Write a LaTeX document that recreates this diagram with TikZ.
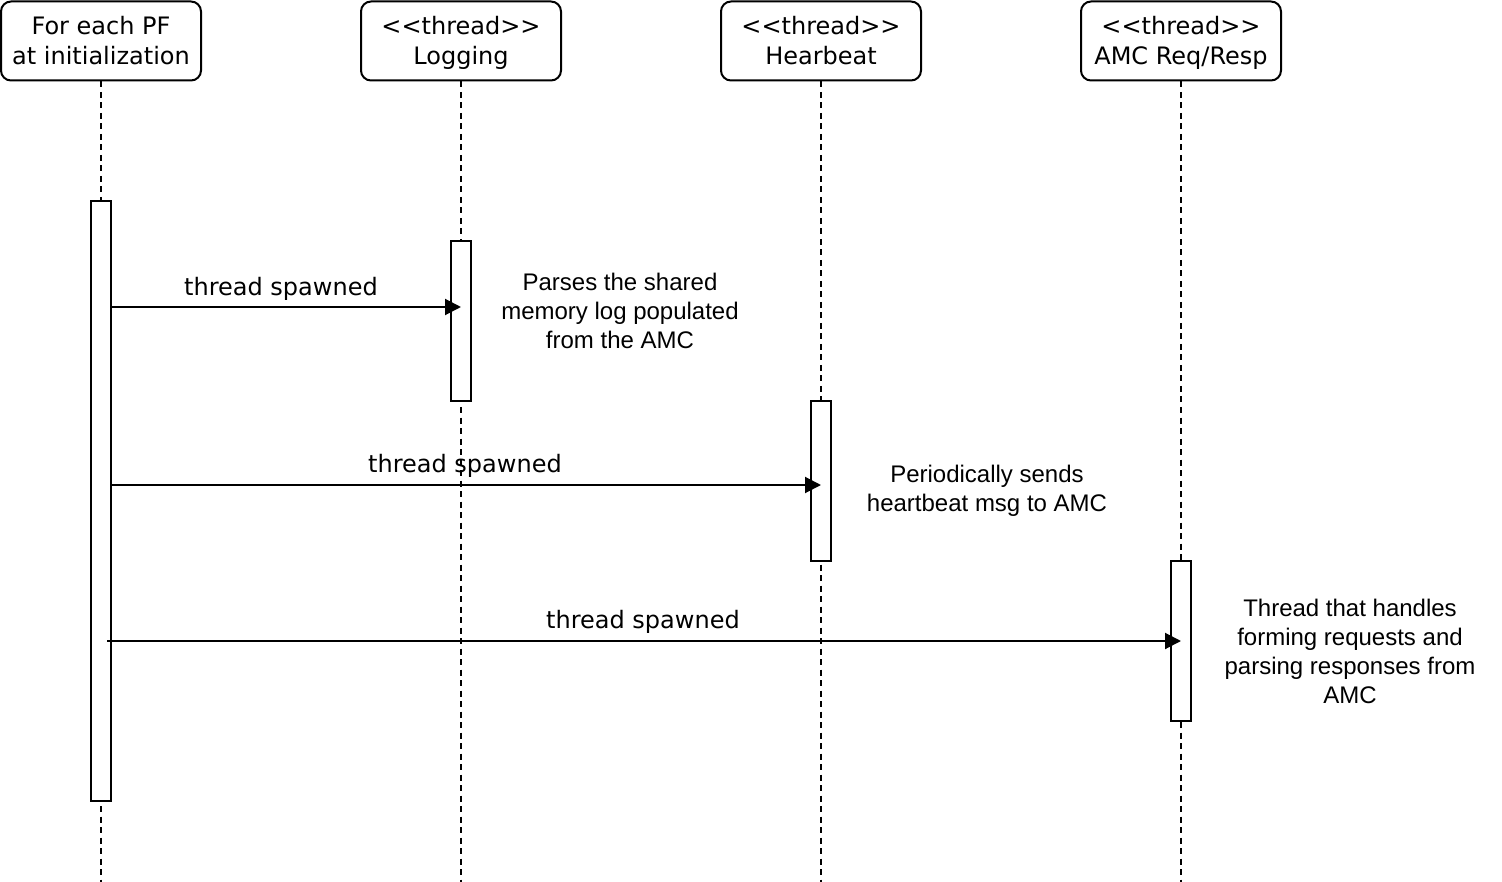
\documentclass[tikz,border=0pt]{standalone}
\usepackage{fontspec}
\setmainfont{DejaVu Sans}
\newfontfamily\descfont{Liberation Sans}
\usetikzlibrary{arrows.meta}
\newcommand\thr{<\kern0pt<thread>\kern0pt>}
\newcommand\hs{\rule[-6pt]{0pt}{30pt}}
\begin{document}
\begin{tikzpicture}[x=1pt,y=-1pt,
  head/.style={draw,line width=2pt,rounded corners=10pt,minimum width=200pt,minimum height=79pt,align=center,inner sep=0pt,
    font=\fontsize{24pt}{30pt}\selectfont},
  life/.style={line width=2pt,dash pattern=on 6pt off 4.5pt},
  act/.style={draw,fill=white,line width=2pt,minimum width=20pt,inner sep=0pt},
  msg/.style={line width=2pt,-{Triangle[length=16pt,width=16pt]}},
  lbl/.style={font=\fontsize{24pt}{28pt}\selectfont,inner sep=0pt},
  desc/.style={font=\descfont\fontsize{24pt}{29pt}\selectfont,align=center,inner sep=0pt}]
\useasboundingbox (0,0) rectangle (1502,882);
% headers
\node[head] (h1) at (101,41) {\hs For each PF\\\hs at initialization};
\node[head] (h2) at (461,41) {\hs\thr\\\hs Logging};
\node[head] (h3) at (821,41) {\hs\thr\\\hs Hearbeat};
\node[head] (h4) at (1181,41) {\hs\thr\\\hs AMC Req/Resp};
% lifeline ends
\coordinate (e1) at (101,882);
\coordinate (e2) at (461,882);
\coordinate (e3) at (821,882);
\coordinate (e4) at (1181,882);
\draw[life] (h1.south) -- (e1);
\draw[life] (h2.south) -- (e2);
\draw[life] (h3.south) -- (e3);
\draw[life] (h4.south) -- (e4);
% activations
\node[act,minimum height=600pt] (a1) at (101,501) {};
\node[act,minimum height=160pt] (a2) at (461,321) {};
\node[act,minimum height=160pt] (a3) at (821,481) {};
\node[act,minimum height=160pt] (a4) at (1181,641) {};
% message targets
\coordinate (t1) at (461,307);
\coordinate (t2) at (821,485);
\coordinate (t3) at (1181,641);
\coordinate (s3) at (107,641);
\draw[msg] (a1.east |- t1) -- (t1);
\draw[msg] (a1.east |- t2) -- (t2);
\draw[msg] (s3) -- (t3);
\node[lbl] (l1) at (281,289) {thread spawned};
\node[lbl] (l2) at (465,466) {thread spawned};
\node[lbl] (l3) at (643,622) {thread spawned};
% descriptions
\node[desc] (d1) at (620,311) {Parses the shared\\memory log populated\\from the AMC};
\node[desc] (d2) at (987,491) {Periodically sends\\heartbeat msg to AMC};
\node[desc] (d3) at (1350,651) {Thread that handles\\forming requests and\\parsing responses from\\AMC};
\end{tikzpicture}
\end{document}
